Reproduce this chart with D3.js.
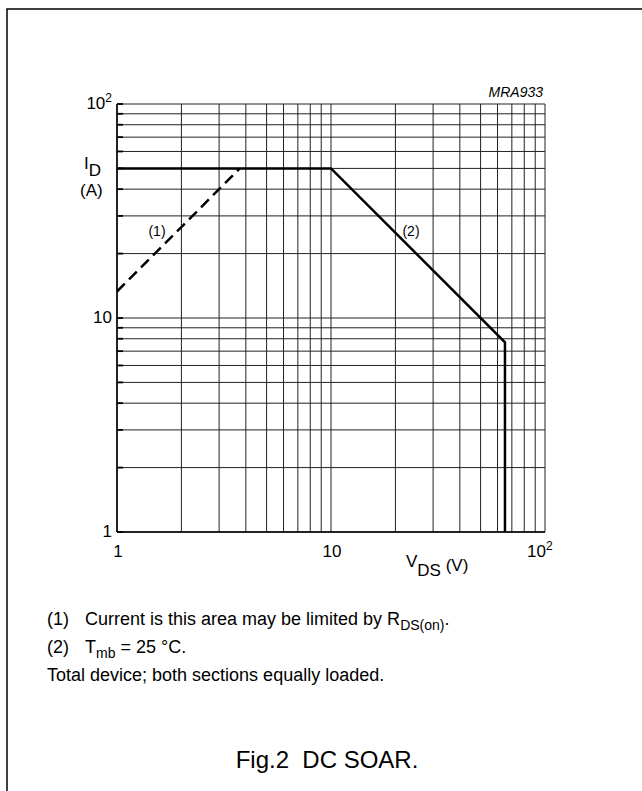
<!DOCTYPE html>
<meta charset="utf-8">
<html>
<script src="https://d3js.org/d3.v7.min.js"></script>
<style>
  body { margin: 0; background: #fff; }
  text { font-family: "Liberation Sans", Arial, sans-serif; fill: #000; }
</style>
<div id="chart"></div>
<script>

// data
var xTicks = [1, 10, 100];
var yTicks = [1, 10, 100];
var gridVals = [1,2,3,4,5,6,7,8,9,10,20,30,40,50,60,70,80,90,100];

// (1) R_DS(on) limit, dashed
var limitV = [1, 3.75];
var limitI = [13.3, 50];

// (2) DC SOAR boundary
var soarV = [1, 10, 65, 65];
var soarI = [50, 50, 7.7, 1];

var notes = [
  ["(1)", "Current is this area may be limited by R", "DS(on)", "."],
  ["(2)", "T", "mb", " = 25 \u00B0C."]
];

var width = 642, height = 791;
var x0 = 117, x1 = 545, yTop = 104, yBot = 532;

var svg = d3.select("#chart").append("svg")
    .attr("width", width)
    .attr("height", height);

// outer frame
svg.append("rect")
    .attr("x", 7).attr("y", 9)
    .attr("width", 700).attr("height", 900)
    .attr("fill", "none").attr("stroke", "#000").attr("stroke-width", 1.5);

var x = d3.scaleLog().domain([1, 100]).range([x0, x1]);
var y = d3.scaleLog().domain([1, 100]).range([yBot, yTop]);

var g = svg.append("g");

// grid
g.selectAll("line.vg")
  .data(gridVals)
  .enter().append("line")
    .attr("class", "vg")
    .attr("x1", function(d) { return x(d); })
    .attr("x2", function(d) { return x(d); })
    .attr("y1", yTop).attr("y2", yBot)
    .attr("stroke", "#222").attr("stroke-width", 1);

g.selectAll("line.hg")
  .data(gridVals)
  .enter().append("line")
    .attr("class", "hg")
    .attr("y1", function(d) { return y(d); })
    .attr("y2", function(d) { return y(d); })
    .attr("x1", x0).attr("x2", x1)
    .attr("stroke", "#222").attr("stroke-width", 1);

// short heavier ticks inside the left axis
g.selectAll("line.lt")
  .data(gridVals)
  .enter().append("line")
    .attr("x1", x0).attr("x2", x0 + 6)
    .attr("y1", function(d) { return y(d); })
    .attr("y2", function(d) { return y(d); })
    .attr("stroke", "#000").attr("stroke-width", 1.8);

// axes lines
g.append("line").attr("x1", x0).attr("x2", x0).attr("y1", yTop).attr("y2", yBot)
  .attr("stroke", "#000").attr("stroke-width", 1.5);
g.append("line").attr("x1", x0).attr("x2", x1).attr("y1", yBot).attr("y2", yBot)
  .attr("stroke", "#000").attr("stroke-width", 1.5);

// tick labels
function tickLabel(sel, d) {
  if (d === 100) {
    sel.append("tspan").text("10");
    sel.append("tspan").attr("dy", -7).attr("font-size", 12).text("2");
  } else {
    sel.text(d);
  }
}

yTicks.forEach(function(d) {
  var t = g.append("text")
      .attr("x", x0 - 5)
      .attr("y", y(d) + 5)
      .attr("text-anchor", "end")
      .attr("font-size", 17);
  tickLabel(t, d);
});

xTicks.forEach(function(d) {
  var t = g.append("text")
      .attr("x", d === 100 ? x(d) - 18 : x(d) + 1)
      .attr("y", yBot + 25)
      .attr("text-anchor", d === 100 ? "start" : "middle")
      .attr("font-size", 17);
  tickLabel(t, d);
});

// axis titles
var yt = g.append("text").attr("x", 84).attr("y", 169).attr("font-size", 17);
yt.append("tspan").text("I");
yt.append("tspan").attr("dy", 7).text("D");
g.append("text").attr("x", 80).attr("y", 196).attr("font-size", 17).text("(A)");

var xt = g.append("text").attr("x", 406).attr("y", 567).attr("font-size", 17);
xt.append("tspan").text("V");
xt.append("tspan").attr("dy", 9).text("DS");
xt.append("tspan").attr("dy", -5).text("\u00A0(V)");

g.append("text").attr("x", 543).attr("y", 97)
  .attr("text-anchor", "end")
  .attr("font-size", 14).attr("font-style", "italic")
  .text("MRA933");

// curves
var line = d3.line()
  .x(function(d) { return x(d[0]); })
  .y(function(d) { return y(d[1]); });

g.append("path")
  .attr("d", line(d3.zip(limitV, limitI)))
  .attr("fill", "none").attr("stroke", "#000")
  .attr("stroke-width", 2.5).attr("stroke-dasharray", "11,6");

g.append("path")
  .attr("d", line(d3.zip(soarV, soarI)))
  .attr("fill", "none").attr("stroke", "#000")
  .attr("stroke-width", 2.5).attr("stroke-linejoin", "miter");

g.append("text").attr("x", 157).attr("y", 236).attr("text-anchor", "middle")
  .attr("font-size", 14).text("(1)");
g.append("text").attr("x", 411).attr("y", 236).attr("text-anchor", "middle")
  .attr("font-size", 14).text("(2)");

// notes
var noteY = [625, 653];
notes.forEach(function(n, i) {
  svg.append("text").attr("x", 47).attr("y", noteY[i]).attr("font-size", 18).text(n[0]);
  var t = svg.append("text").attr("x", 85).attr("y", noteY[i]).attr("font-size", 18);
  t.append("tspan").text(n[1]);
  t.append("tspan").attr("dy", 5).attr("font-size", 14).text(n[2]);
  t.append("tspan").attr("dy", -5).text(n[3]);
});
svg.append("text").attr("x", 47).attr("y", 681).attr("font-size", 18)
  .text("Total device; both sections equally loaded.");

// caption
svg.append("text").attr("x", 327).attr("y", 768)
  .attr("text-anchor", "middle").attr("font-size", 24)
  .text("Fig.2\u00A0 DC SOAR.");
</script>
</html>
